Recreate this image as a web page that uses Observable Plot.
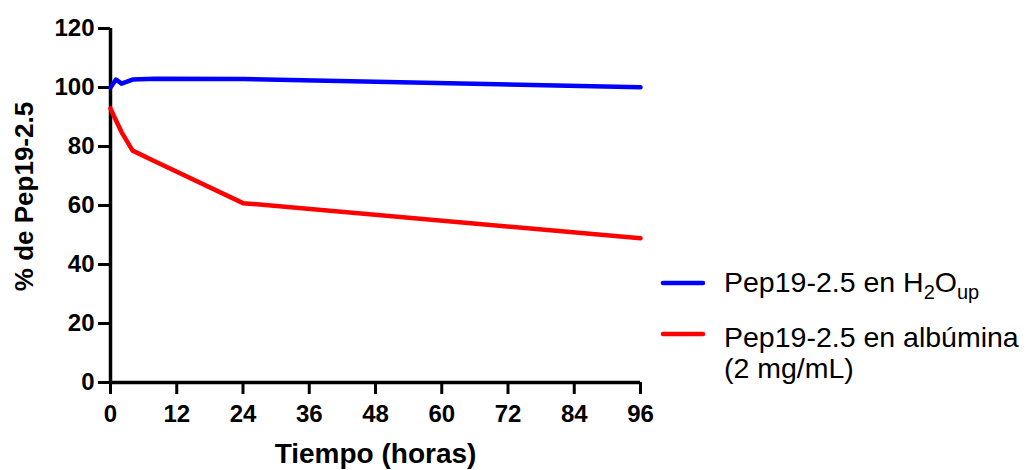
<!DOCTYPE html>
<html>
<head>
<meta charset="utf-8">
<script src="https://cdn.jsdelivr.net/npm/d3@7"></script>
<script src="https://cdn.jsdelivr.net/npm/@observablehq/plot@0.6"></script>
<style>
  html, body { margin: 0; padding: 0; background: #fff; }
  #chart { width: 1030px; height: 470px; }
  svg { font-family: "Liberation Sans", Arial, sans-serif; }
</style>
</head>
<body>
<div id="chart"></div>
<script>
// Data
const times = [0, 1, 2, 4, 8, 24, 96];
const water = [100, 102.7, 101.3, 102.7, 103, 102.9, 100.1];
const albumin = [92.9, 88.8, 84.9, 78.6, 75.0, 60.8, 48.9];
const seriesNames = ["Pep19-2.5 en H2Oup", "Pep19-2.5 en albúmina (2 mg/mL)"];
const seriesColors = ["#0000ff", "#ff0000"];
const xTicks = [0, 12, 24, 36, 48, 60, 72, 84, 96];
const yTicks = [0, 20, 40, 60, 80, 100, 120];
const xTitle = "Tiempo (horas)";
const yTitle = "% de Pep19-2.5";

const rows = [];
times.forEach((t, i) => rows.push({t, v: water[i], s: seriesNames[0]}));
times.forEach((t, i) => rows.push({t, v: albumin[i], s: seriesNames[1]}));

const plot = Plot.plot({
  width: 1030,
  height: 470,
  marginLeft: 110,
  marginRight: 390,
  marginTop: 28,
  marginBottom: 88,
  x: {domain: [0, 96]},
  y: {domain: [0, 120]},
  color: {domain: seriesNames, range: seriesColors},
  marks: [
    Plot.axisX({ticks: xTicks, tickSize: 12, tickPadding: 10, strokeWidth: 3, fontSize: 24, fontWeight: "bold", label: null, fill: "#000"}),
    Plot.axisY({ticks: yTicks, tickSize: 12, tickPadding: 4, strokeWidth: 3, fontSize: 24, fontWeight: "bold", label: null, fill: "#000"}),
    Plot.ruleX([0], {strokeWidth: 3.5}),
    Plot.ruleY([0], {strokeWidth: 3.5}),
    Plot.line(rows, {x: "t", y: "v", z: "s", stroke: "s", strokeWidth: 4.5, strokeLinejoin: "round", strokeLinecap: "round"}),
    Plot.text([xTitle], {frameAnchor: "bottom", textAnchor: "middle", lineAnchor: "bottom", dy: 80, fontSize: 28, fontWeight: "bold", fill: "#000"}),
    Plot.text([yTitle], {frameAnchor: "left", rotate: -90, textAnchor: "middle", lineAnchor: "middle", dx: -86, dy: -9, fontSize: 26, fontWeight: "bold", fill: "#000"})
  ]
});

document.getElementById("chart").appendChild(plot);

// Legend
const svg = d3.select(plot);
const leg = svg.append("g")
  .attr("font-family", '"Liberation Sans", Arial, sans-serif')
  .attr("font-size", 28.5)
  .attr("text-anchor", "start")
  .attr("fill", "#000");
const legendItems = [
  {color: seriesColors[0], y: 283},
  {color: seriesColors[1], y: 334}
];
legendItems.forEach(d => {
  leg.append("line").attr("x1", 663).attr("x2", 703).attr("y1", d.y).attr("y2", d.y)
    .attr("stroke", d.color).attr("stroke-width", 4.5).attr("stroke-linecap", "round");
});
const t1 = leg.append("text").attr("x", 724).attr("y", 292).attr("text-anchor", "start");
t1.append("tspan").text("Pep19-2.5 en H");
t1.append("tspan").attr("font-size", 20).attr("dy", 7).text("2");
t1.append("tspan").attr("dy", -7).text("O");
t1.append("tspan").attr("font-size", 20).attr("dy", 7).text("up");
leg.append("text").attr("x", 724).attr("y", 347).attr("text-anchor", "start").text("Pep19-2.5 en albúmina");
leg.append("text").attr("x", 724).attr("y", 378).attr("text-anchor", "start").text("(2 mg/mL)");
</script>
</body>
</html>
